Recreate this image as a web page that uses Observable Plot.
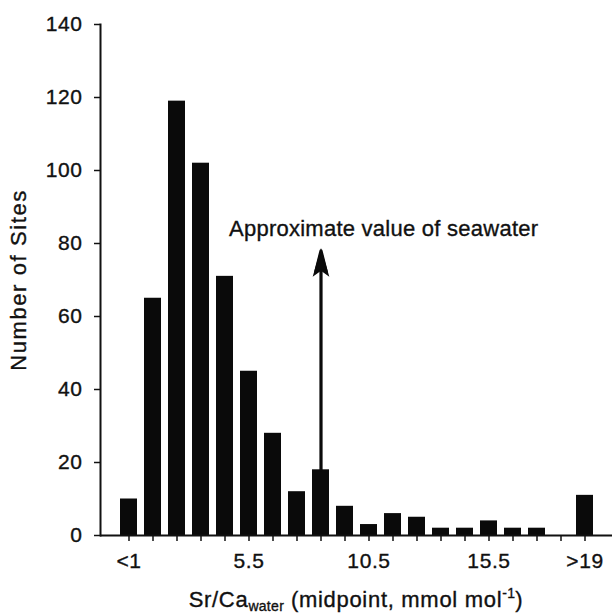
<!DOCTYPE html>
<html>
<head>
<meta charset="utf-8">
<script src="https://cdn.jsdelivr.net/npm/d3@7"></script>
<script src="https://cdn.jsdelivr.net/npm/@observablehq/plot@0.6"></script>
<style>
  html, body { margin: 0; padding: 0; background: #fff; }
  #chart svg { display: block; }
  #chart svg text { stroke: #111; stroke-width: 0.35px; letter-spacing: 0.6px; }
  #xlabel {
    width: 612px; box-sizing: border-box; padding-left: 100px;
    text-align: center; font-family: "Liberation Sans", Arial, sans-serif;
    font-size: 22px; letter-spacing: 0.7px; color: #111; line-height: 28px; height: 28px;
    -webkit-text-stroke: 0.35px #111;
  }
  #xlabel sub { font-size: 14px; vertical-align: -4px; line-height: 0; letter-spacing: 0.3px; }
  #xlabel sup { font-size: 14px; vertical-align: 9px; line-height: 0; letter-spacing: 0.3px; }
</style>
</head>
<body>
<div id="chart"></div>
<div id="xlabel">Sr/Ca<sub>water</sub> (midpoint, mmol mol<sup>-1</sup>)</div>
<script>
const categories = ["<1","1.5","2.5","3.5","4.5","5.5","6.5","7.5","8.5","9.5","10.5","11.5","12.5","13.5","14.5","15.5","16.5","17.5","18.5",">19"];
const counts = [10,65,119,102,71,45,28,12,18,8,3,6,5,2,2,4,2,2,0,11];
const shownLabels = ["<1","5.5","10.5","15.5",">19"];
const yTicks = [0,20,40,60,80,100,120,140];
const annotation = {text: "Approximate value of seawater", x: "4.5", y: 84};
const arrowInfo = {x: "8.5", from: 18, to: 78};

const data = categories.map((c, i) => ({bin: c, n: counts[i]}));

// narrow filled arrowhead whose tip sits at the symbol's origin
const arrowHead = {
  draw(context) {
    context.moveTo(0, 0);
    context.lineTo(-7, 24);
    context.lineTo(0, 19);
    context.lineTo(7, 24);
    context.closePath();
  }
};

const plot = Plot.plot({
  width: 612,
  height: 586,
  marginLeft: 100,
  marginRight: 0,
  marginTop: 24,
  marginBottom: 51,
  style: {fontFamily: "Liberation Sans, Arial, sans-serif", fontSize: "21px", color: "#111", background: "#fff"},
  x: {domain: categories, padding: 0.3, paddingOuter: 0.65},
  y: {domain: [0, 140]},
  marks: [
    Plot.barY(data, {x: "bin", y: "n", fill: "#0a0a0a"}),
    Plot.ruleY([0], {stroke: "#111", strokeWidth: 2}),
    Plot.frame({anchor: "left", stroke: "#111", strokeWidth: 2}),
    Plot.axisY({ticks: yTicks, tickSize: 6, tickPadding: 12, tickFormat: d => String(d), fontSize: 21, label: "Number of Sites", labelAnchor: "center", labelArrow: "none", labelOffset: 90, stroke: "#111", strokeWidth: 1.5}),
    Plot.axisX({tickSize: 6, tickPadding: 12, fontSize: 21, tickFormat: d => shownLabels.includes(d) ? d : "", label: null, stroke: "#111", strokeWidth: 1.5}),
    Plot.arrow([arrowInfo], {x: "x", y1: "from", y2: "to", stroke: "#0a0a0a", strokeWidth: 3.2, headLength: 10, headAngle: 28}),
    Plot.dot([arrowInfo], {x: "x", y: "to", symbol: arrowHead, fill: "#0a0a0a", stroke: "#0a0a0a", strokeWidth: 1.5, r: 5}),
    Plot.text([annotation], {x: "x", y: "y", text: "text", textAnchor: "start", dx: 4, fontSize: 22, fill: "#111"})
  ]
});
document.getElementById("chart").appendChild(plot);
// enlarge the y-axis title and tune the annotation spacing to match the reference
d3.select(plot).selectAll("g[aria-label='y-axis label'] text").style("font-size", "22px").style("letter-spacing", "1.6px");
d3.select(plot).selectAll("g[aria-label='text'] text").style("letter-spacing", "0.25px");
</script>
</body>
</html>
